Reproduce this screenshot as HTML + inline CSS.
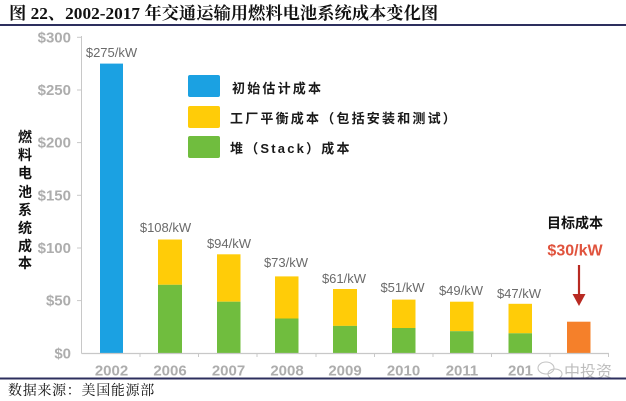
<!DOCTYPE html>
<html><head><meta charset="utf-8"><style>
html,body{margin:0;padding:0;background:#fff;}
svg{display:block;}
.t{font-family:"Liberation Serif","Noto Serif CJK SC",serif;}
.s{font-family:"Liberation Sans","Noto Sans CJK SC",sans-serif;}
</style></head><body>
<svg width="626" height="401" viewBox="0 0 626 401" xmlns="http://www.w3.org/2000/svg">
<rect width="626" height="401" fill="#fff"/>
<!-- title -->
<text x="9" y="19" class="t" font-size="17.3" font-weight="bold" fill="#111">图 22、2002-2017 年交通运输用燃料电池系统成本变化图</text>
<rect x="0" y="24" width="626" height="2" fill="#2d2f5e"/>

<!-- y axis -->
<line x1="81.5" y1="36" x2="81.5" y2="353.5" stroke="#c8c8c8" stroke-width="1"/>
<g stroke="#c8c8c8" stroke-width="1">
<line x1="77" y1="37.3" x2="82" y2="37.3"/>
<line x1="77" y1="90" x2="82" y2="90"/>
<line x1="77" y1="142.6" x2="82" y2="142.6"/>
<line x1="77" y1="195.3" x2="82" y2="195.3"/>
<line x1="77" y1="248" x2="82" y2="248"/>
<line x1="77" y1="300.6" x2="82" y2="300.6"/>
</g>
<g class="s" font-size="15" font-weight="bold" fill="#adadad" text-anchor="end">
<text x="71" y="42.5">$300</text>
<text x="71" y="95">$250</text>
<text x="71" y="147.5">$200</text>
<text x="71" y="200.5">$150</text>
<text x="71" y="253">$100</text>
<text x="71" y="305.5">$50</text>
<text x="71" y="358.5">$0</text>
</g>

<!-- y title -->
<g class="s" font-size="14" font-weight="bold" fill="#111" text-anchor="middle">
<text x="25" y="142">燃</text>
<text x="25" y="160">料</text>
<text x="25" y="178">电</text>
<text x="25" y="197">池</text>
<text x="25" y="215">系</text>
<text x="25" y="233">统</text>
<text x="25" y="251">成</text>
<text x="25" y="268">本</text>
</g>

<!-- bars -->
<rect x="100" y="63.6" width="23" height="289.7" fill="#1ba1e2"/>

<rect x="158" y="239.5" width="24" height="45.3" fill="#ffcc08"/>
<rect x="158" y="284.8" width="24" height="68.5" fill="#70bd3e"/>

<rect x="217" y="254.3" width="23.5" height="47.4" fill="#ffcc08"/>
<rect x="217" y="301.7" width="23.5" height="51.6" fill="#70bd3e"/>

<rect x="275" y="276.4" width="23.5" height="42.1" fill="#ffcc08"/>
<rect x="275" y="318.5" width="23.5" height="34.8" fill="#70bd3e"/>

<rect x="333" y="289" width="24" height="36.9" fill="#ffcc08"/>
<rect x="333" y="325.9" width="24" height="27.4" fill="#70bd3e"/>

<rect x="392" y="299.6" width="23.5" height="28.4" fill="#ffcc08"/>
<rect x="392" y="328" width="23.5" height="25.3" fill="#70bd3e"/>

<rect x="450" y="301.7" width="23.5" height="29.5" fill="#ffcc08"/>
<rect x="450" y="331.2" width="23.5" height="22.1" fill="#70bd3e"/>

<rect x="508.5" y="303.8" width="23.5" height="29.5" fill="#ffcc08"/>
<rect x="508.5" y="333.3" width="23.5" height="20" fill="#70bd3e"/>

<rect x="567" y="321.7" width="23.5" height="31.6" fill="#f5802a"/>

<!-- x axis -->
<line x1="81.5" y1="353.5" x2="609" y2="353.5" stroke="#c8c8c8" stroke-width="1.2"/>
<g stroke="#c8c8c8" stroke-width="1">
<line x1="140" y1="353.5" x2="140" y2="357"/>
<line x1="198.5" y1="353.5" x2="198.5" y2="357"/>
<line x1="257" y1="353.5" x2="257" y2="357"/>
<line x1="316" y1="353.5" x2="316" y2="357"/>
<line x1="374.5" y1="353.5" x2="374.5" y2="357"/>
<line x1="433" y1="353.5" x2="433" y2="357"/>
<line x1="491.5" y1="353.5" x2="491.5" y2="357"/>
<line x1="550" y1="353.5" x2="550" y2="357"/>
<line x1="608.5" y1="353.5" x2="608.5" y2="357"/>
</g>
<g class="s" font-size="15" font-weight="bold" fill="#adadad" text-anchor="middle">
<text x="111.5" y="375.5">2002</text>
<text x="170" y="375.5">2006</text>
<text x="228.5" y="375.5">2007</text>
<text x="287" y="375.5">2008</text>
<text x="345" y="375.5">2009</text>
<text x="403.5" y="375.5">2010</text>
<text x="462" y="375.5">2011</text>
<text x="508" y="375.5" text-anchor="start">201</text>
</g>

<!-- value labels -->
<g class="s" font-size="13" fill="#6a6a6a" text-anchor="middle">
<text x="111.5" y="57">$275/kW</text>
<text x="165.5" y="232">$108/kW</text>
<text x="229" y="248">$94/kW</text>
<text x="286" y="267">$73/kW</text>
<text x="344" y="283">$61/kW</text>
<text x="402.5" y="292">$51/kW</text>
<text x="461" y="295">$49/kW</text>
<text x="519" y="298">$47/kW</text>
</g>

<!-- target -->
<text x="575" y="228" class="s" font-size="14" font-weight="bold" fill="#111" text-anchor="middle">目标成本</text>
<text x="575" y="255.5" class="s" font-size="16" font-weight="bold" fill="#e0533d" text-anchor="middle">$30/kW</text>
<line x1="579" y1="265" x2="579" y2="298" stroke="#b82a22" stroke-width="2.2"/>
<polygon points="572.5,294 585.5,294 579,306" fill="#b82a22"/>

<!-- legend -->
<rect x="188" y="75" width="32" height="22" rx="2" fill="#1ba1e2"/>
<rect x="188" y="106" width="32" height="22" rx="2" fill="#ffcc08"/>
<rect x="188" y="136" width="32" height="22" rx="2" fill="#70bd3e"/>
<g class="s" font-size="13" font-weight="bold" fill="#1a1a1a" letter-spacing="2.2">
<text x="232" y="93">初始估计成本</text>
<text x="230" y="123">工厂平衡成本（包括安装和测试）</text>
<text x="230" y="153">堆（Stack）成本</text>
</g>

<!-- watermark -->
<g fill="none" stroke="#c4c4c4" stroke-width="1.1">
<ellipse cx="546" cy="368" rx="8" ry="6"/>
<ellipse cx="555" cy="374" rx="7" ry="5"/>
</g>
<text x="564" y="377" class="s" font-size="16" fill="#bdbdbd">中投资</text>

<!-- bottom divider & source -->
<rect x="0" y="377.5" width="626" height="2" fill="#2d2f5e"/>
<text x="8" y="395" class="t" font-size="14" fill="#111" letter-spacing="0.7">数据来源：美国能源部</text>
</svg>
</body></html>
